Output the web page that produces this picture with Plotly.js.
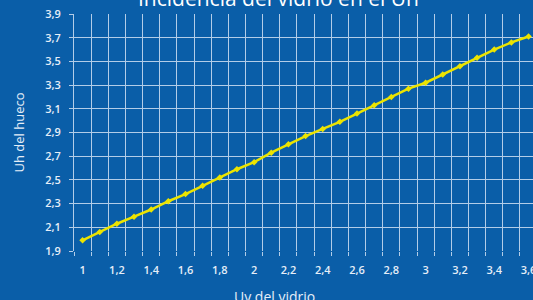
<!DOCTYPE html>
<html>
<head>
<meta charset="utf-8">
<script src="https://cdn.plot.ly/plotly-3.0.1.min.js"></script>
<style>html,body{margin:0;padding:0;background:#0a5ea8;}#chart{width:533px;height:300px;}</style>
</head>
<body>
<div id="chart"></div>
<script>
const uyVidrio = [1.0,1.1,1.2,1.3,1.4,1.5,1.6,1.7,1.8,1.9,2.0,2.1,2.2,2.3,2.4,2.5,2.6,2.7,2.8,2.9,3.0,3.1,3.2,3.3,3.4,3.5,3.6];
const uhHueco = [1.99,2.06,2.13,2.19,2.25,2.32,2.38,2.45,2.52,2.59,2.65,2.73,2.80,2.87,2.93,2.99,3.06,3.13,3.20,3.27,3.32,3.39,3.46,3.53,3.60,3.66,3.71];
const xTickVals = [1,1.2,1.4,1.6,1.8,2,2.2,2.4,2.6,2.8,3,3.2,3.4,3.6];
const xTickText = ["1","1,2","1,4","1,6","1,8","2","2,2","2,4","2,6","2,8","3","3,2","3,4","3,6"];
const yTickVals = [1.9,2.1,2.3,2.5,2.7,2.9,3.1,3.3,3.5,3.7,3.9];
const yTickText = ["1,9","2,1","2,3","2,5","2,7","2,9","3,1","3,3","3,5","3,7","3,9"];
const titleText = "Incidencia del vidrio en el Uh";
const xTitle = "Uy del vidrio";
const yTitle = "Uh del hueco";

const bg = "#0a5ea8";
const grid = "#b3cde8";
const txt = "#e6eef8";
const fontFam = "'Open Sans', 'DejaVu Sans', sans-serif";
const xRange = [0.95, 3.626];

const trace = {
  x: uyVidrio, y: uhHueco, type: 'scatter', mode: 'lines+markers',
  line: {color: '#ece400', width: 2.5},
  marker: {symbol: 'diamond', size: 5, color: '#ece400'},
  xaxis: 'x', yaxis: 'y', hoverinfo: 'skip'
};
const labelTrace = {x: [], y: [], xaxis: 'x2', yaxis: 'y', type: 'scatter', showlegend: false};

const layout = {
  width: 533, height: 300,
  margin: {l: 74, r: 0, t: 14, b: 49},
  paper_bgcolor: bg, plot_bgcolor: bg,
  showlegend: false,
  font: {family: fontFam, color: txt, size: 11},
  xaxis: {
    range: xRange, tick0: 0.95, dtick: 0.1, showticklabels: false,
    showgrid: true, gridcolor: grid, gridwidth: 1,
    ticks: 'outside', ticklen: 4, tickcolor: grid,
    zeroline: false, showline: false, fixedrange: true
  },
  xaxis2: {
    overlaying: 'x', anchor: 'y', side: 'bottom', range: xRange,
    tickmode: 'array', tickvals: xTickVals, ticktext: xTickText,
    showgrid: false, zeroline: false, showline: false, ticks: '',
    ticklabelstandoff: 11, ticklabeloverflow: 'allow',
    tickfont: {family: fontFam, color: txt, size: 11, weight: 600}
  },
  yaxis: {
    range: [1.9, 3.9], tickmode: 'array', tickvals: yTickVals, ticktext: yTickText,
    showgrid: true, gridcolor: grid, gridwidth: 1,
    ticks: 'outside', ticklen: 4, tickcolor: grid,
    ticklabelstandoff: 6,
    tickfont: {family: fontFam, color: txt, size: 11, weight: 600},
    zeroline: false, showline: true, linecolor: grid, linewidth: 1, mirror: false,
    title: {text: yTitle, font: {family: fontFam, color: txt, size: 13}, standoff: 17}
  },
  annotations: [
    {text: titleText, xref: 'paper', yref: 'paper', x: (278-74)/459, y: (251-(-2))/237,
     xanchor: 'center', yanchor: 'middle', showarrow: false,
     font: {family: fontFam, color: '#ffffff', size: 21}},
    {text: xTitle, xref: 'paper', yref: 'paper', x: (274-74)/459, y: (251-296)/237,
     xanchor: 'center', yanchor: 'middle', showarrow: false,
     font: {family: fontFam, color: txt, size: 14}}
  ]
};
Plotly.newPlot('chart', [trace, labelTrace], layout, {displayModeBar: false, staticPlot: true});
</script>
</body>
</html>
